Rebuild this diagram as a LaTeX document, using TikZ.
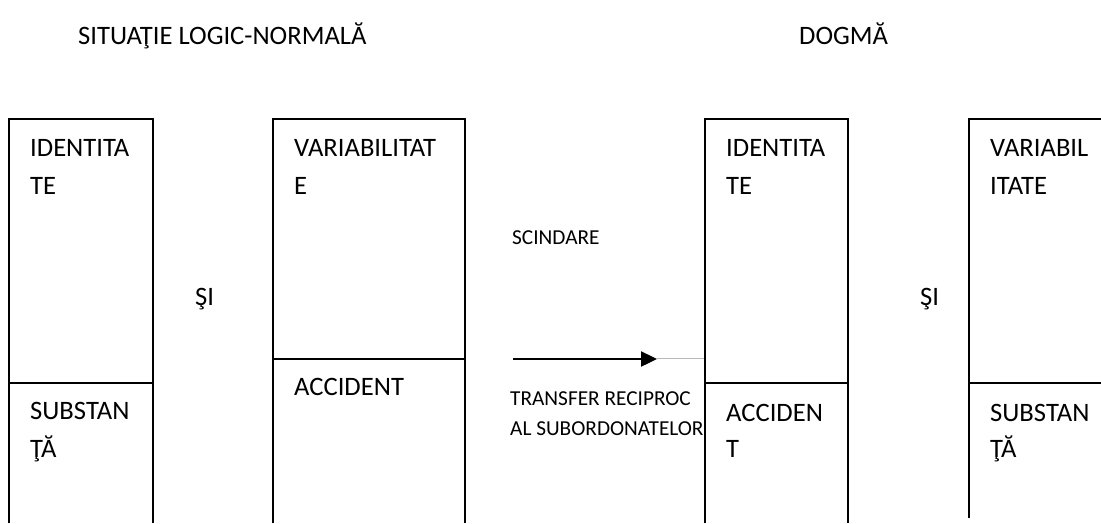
\documentclass[tikz,border=0pt]{standalone}
\usepackage{fontspec}
\setmainfont{Carlito}
\usetikzlibrary{arrows.meta}

\begin{document}
\begin{tikzpicture}[x=1pt, y=-1pt,
		boxline/.style={line width=1.6pt},
		bigtxt/.style={anchor=base west, inner sep=0pt, font=\fontsize{26.6}{30}\selectfont},
		smalltxt/.style={anchor=base west, inner sep=0pt, font=\fontsize{21.3}{24}\selectfont}]
		\useasboundingbox (0, 0) rectangle (1101, 523);
		\node [bigtxt] (titleleft) at (78, 44) {SITUAŢIE LOGIC-NORMALĂ};
		\node [bigtxt] (titleright) at (799, 44) {DOGMĂ};
		\draw [boxline] (9, 523) -- (9, 119) -- (153, 119) -- (153, 523);
		\draw [boxline] (9, 383) -- (153, 383);
		\node [bigtxt] (idA1) at (30, 156) {IDENTITA};
		\node [bigtxt] (idA2) at (30, 194) {TE};
		\node [bigtxt] (subA1) at (30, 419) {SUBSTAN};
		\node [bigtxt] (subA2) at (30, 457) {ŢĂ};
		\node [bigtxt] (andA) at (195, 305) {ŞI};
		\draw [boxline] (273, 523) -- (273, 119) -- (465, 119) -- (465, 523);
		\draw [boxline] (273, 359) -- (465, 359);
		\node [bigtxt] (varB1) at (294, 156) {VARIABILITAT};
		\node [bigtxt] (varB2) at (294, 194) {E};
		\node [bigtxt] (accB) at (294, 395) {ACCIDENT};
		\node [smalltxt] (split) at (512, 244) {SCINDARE};
		\coordinate (arrowstart) at (513, 359);
		\coordinate (arrowtip) at (657, 359);
		\coordinate (boxCleft) at (705, 359);
		\draw [line width=2.4pt, -{Triangle[length=16pt, width=15pt]}] (arrowstart) -- (arrowtip);
		\draw [draw=gray!55, double=white, double distance=0.7pt, line width=0.6pt] (arrowtip) -- (boxCleft);
		\node [smalltxt] (transf1) at (510, 405) {TRANSFER RECIPROC};
		\node [smalltxt] (transf2) at (510, 435) {AL SUBORDONATELOR};
		\draw [boxline] (705, 523) -- (705, 119) -- (848, 119) -- (848, 523);
		\draw [boxline] (705, 383) -- (848, 383);
		\node [bigtxt] (idC1) at (726, 156) {IDENTITA};
		\node [bigtxt] (idC2) at (726, 194) {TE};
		\node [bigtxt] (accC1) at (726, 421) {ACCIDEN};
		\node [bigtxt] (accC2) at (726, 457) {T};
		\node [bigtxt] (andB) at (920, 305) {ŞI};
		\draw [boxline] (969, 518) -- (969, 119) -- (1101, 119);
		\draw [boxline] (969, 383) -- (1101, 383);
		\node [bigtxt] (varD1) at (990, 156) {VARIABIL};
		\node [bigtxt] (varD2) at (990, 194) {ITATE};
		\node [bigtxt] (subD1) at (990, 421) {SUBSTAN};
		\node [bigtxt] (subD2) at (990, 457) {ŢĂ};
	\end{tikzpicture}
\end{document}
